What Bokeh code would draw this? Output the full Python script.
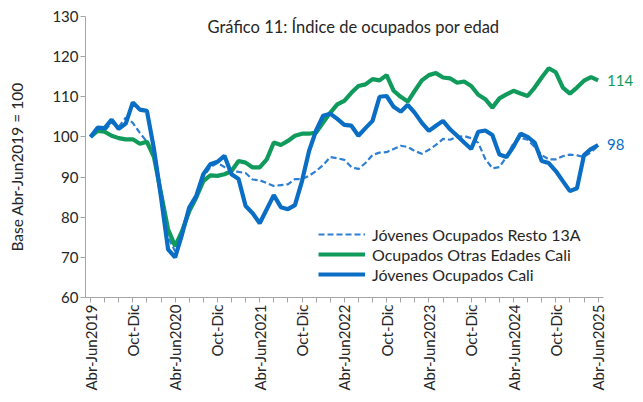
import numpy as np
from bokeh.plotting import figure
from bokeh.models import FixedTicker, Legend, LegendItem, Label, Range1d
from bokeh.embed import file_html
from bokeh.resources import INLINE

# ---- data ----
period_names = ["Abr-Jun", "May-Jul", "Jun-Ago", "Jul-Sep", "Ago-Oct", "Sep-Nov",
                "Oct-Dic", "Nov-Ene", "Dic-Feb", "Ene-Mar", "Feb-Abr", "Mar-May"]
years = [2019, 2020, 2021, 2022, 2023, 2024, 2025]

jovenes_resto_13a = [
    100.0, 101.8, 101.5, 103.5, 102.5, 104.8, 103.5, 101.0, 98.8, 95.0,
    86.0, 75.0, 71.5, 76.0, 82.0, 85.5, 90.0, 92.5, 93.5, 92.5,
    91.5, 91.3, 91.0, 89.4, 89.2, 88.5, 87.8, 88.0, 88.2, 89.5,
    89.5, 90.3, 91.5, 93.0, 95.0, 94.7, 94.3, 92.5, 92.0, 93.5,
    95.5, 96.1, 96.2, 97.0, 97.8, 97.5, 96.5, 95.8, 96.8, 98.0,
    99.5, 99.3, 100.0, 100.2, 99.7, 98.5, 94.5, 92.2, 92.5, 95.0,
    98.5, 99.8, 99.3, 97.5, 95.5, 94.4, 94.4, 95.2, 95.6, 95.4,
    95.0, 96.2, 97.8]

otras_edades_cali = [
    100.0, 101.5, 101.3, 100.3, 99.7, 99.4, 99.4, 98.3, 98.8, 95.0,
    86.0, 77.0, 72.8, 76.6, 81.5, 84.9, 89.0, 90.4, 90.3, 90.7,
    91.5, 94.0, 93.6, 92.4, 92.4, 94.4, 98.6, 98.0, 99.0, 100.3,
    100.8, 100.8, 101.1, 103.6, 106.0, 108.1, 109.0, 111.0, 112.7, 113.1,
    114.4, 114.1, 115.4, 111.5, 110.0, 108.8, 111.5, 114.1, 115.4, 115.9,
    114.8, 114.6, 113.5, 113.8, 112.7, 110.5, 109.4, 107.3, 109.6, 110.6,
    111.5, 110.8, 110.2, 112.3, 114.8, 117.1, 116.1, 112.3, 110.8, 112.3,
    114.0, 114.9, 114.1]

jovenes_cali = [
    100.0, 102.3, 102.2, 104.3, 102.0, 103.3, 108.6, 106.8, 106.5, 97.0,
    85.0, 72.0, 70.0, 75.8, 82.4, 85.3, 90.7, 93.2, 93.8, 95.3,
    90.7, 89.5, 82.8, 81.0, 78.5, 82.0, 85.5, 82.5, 82.0, 83.0,
    89.0, 96.5, 101.6, 105.3, 105.8, 104.5, 103.0, 102.8, 100.3, 102.2,
    104.0, 110.0, 110.2, 107.5, 106.3, 108.0, 106.0, 103.5, 101.5, 102.8,
    104.0, 101.9, 100.3, 98.6, 97.0, 101.3, 101.6, 100.5, 95.6, 95.0,
    97.6, 100.8, 100.0, 98.6, 94.0, 93.5, 91.5, 89.0, 86.5, 87.2,
    95.5, 97.0, 98.0]

n = len(jovenes_cali)
x = list(range(n))

# tick labels: Abr-Jun with year, Oct-Dic without
tick_labels = {}
for i in range(0, n, 2):
    name = period_names[i % 12]
    if i % 12 == 0:
        tick_labels[i] = f"{name}{years[i // 12]}"
    elif i % 12 == 6:
        tick_labels[i] = name
    else:
        tick_labels[i] = ""

FONT = "Lato"
TXT = "#262626"
GREEN = "#109A5C"
BLUE = "#0A6FC4"
DASH_BLUE = "#2C7FD2"
AXIS = "#A6A6A6"

X0, X1 = -0.71, 72.77      # extent of the x axis line
p = figure(frame_width=549, frame_height=281,
           x_range=Range1d(X0, X0 + 549 / 7.05), y_range=Range1d(60, 130),
           output_backend="svg", toolbar_location=None,
           min_border_left=85, min_border_right=0, min_border_top=16, min_border_bottom=88)
p.outline_line_color = None
p.xgrid.visible = False
p.ygrid.visible = False
p.background_fill_color = "white"
p.border_fill_color = "white"

# axes
p.xaxis.ticker = FixedTicker(ticks=list(range(0, n, 2)), minor_ticks=[])
p.xaxis.major_label_overrides = tick_labels
p.xaxis.major_label_orientation = np.pi / 2
p.xaxis.bounds = (X0, X1)
p.yaxis.ticker = FixedTicker(ticks=list(range(60, 131, 10)), minor_ticks=[])
for ax in (p.xaxis[0], p.yaxis[0]):
    ax.axis_line_color = AXIS
    ax.major_tick_line_color = AXIS
    ax.major_tick_in = 0
    ax.major_tick_out = 5
    ax.minor_tick_line_color = None
    ax.major_label_text_font = FONT
    ax.major_label_text_font_size = "15px"
    ax.major_label_text_color = TXT
    ax.major_label_standoff = 2

# y-axis title; trailing no-break spaces move the visible text slightly down
p.yaxis.axis_label = "Base Abr-Jun2019 = 100" + "\u00a0" * 5
p.yaxis.axis_label_standoff = 23
p.yaxis.axis_label_text_font = FONT
p.yaxis.axis_label_text_font_size = "15.5px"
p.yaxis.axis_label_text_font_style = "normal"
p.yaxis.axis_label_text_color = TXT

# lines
r_dash = p.line(x, jovenes_resto_13a, line_color=DASH_BLUE, line_width=2.2, line_dash="6 3")
r_green = p.line(x, otras_edades_cali, line_color=GREEN, line_width=4.2)
r_blue = p.line(x, jovenes_cali, line_color=BLUE, line_width=4.2)

legend = Legend(items=[
    LegendItem(label="Jóvenes Ocupados Resto 13A", renderers=[r_dash]),
    LegendItem(label="Ocupados Otras Edades Cali", renderers=[r_green]),
    LegendItem(label="Jóvenes Ocupados Cali", renderers=[r_blue]),
], location=(233, 13))
legend.border_line_color = None
legend.background_fill_color = "white"
legend.background_fill_alpha = 1.0
legend.glyph_width = 47
legend.glyph_height = 20
legend.label_height = 20
legend.label_standoff = 7
legend.spacing = 0
legend.padding = 5
legend.margin = 0
legend.label_text_font = FONT
legend.label_text_font_size = "16px"
legend.label_text_color = TXT
p.add_layout(legend)

# title inside plot
p.add_layout(Label(x=37.3, y=127.5, text="Gráfico 11: Índice de ocupados por edad",
                   text_align="center", text_baseline="middle",
                   text_font=FONT, text_font_size="16.5px", text_color=TXT))

# end labels
p.add_layout(Label(x=x[-1], y=otras_edades_cali[-1], x_offset=9,
                   text=f"{round(otras_edades_cali[-1])}", text_baseline="middle",
                   text_font=FONT, text_font_size="15px", text_color=GREEN))
p.add_layout(Label(x=x[-1], y=jovenes_cali[-1], x_offset=9,
                   text=f"{round(jovenes_cali[-1])}", text_baseline="middle",
                   text_font=FONT, text_font_size="15px", text_color=BLUE))

open("out.html", "w").write(file_html(p, INLINE))
